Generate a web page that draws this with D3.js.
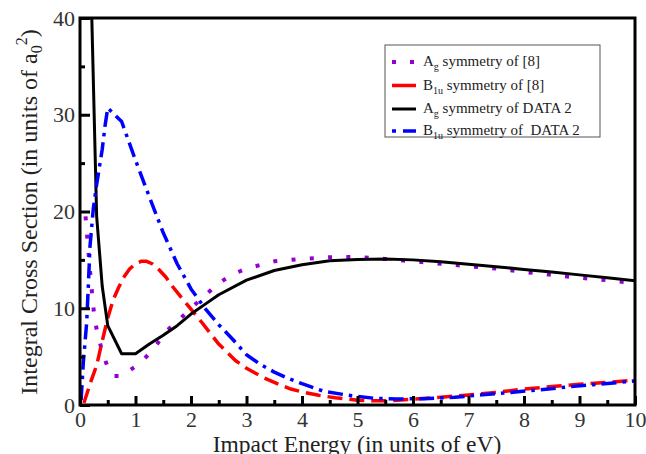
<!DOCTYPE html>
<html>
<head>
<meta charset="utf-8">
<script src="https://cdn.jsdelivr.net/npm/d3@7"></script>
<style>
    body { margin: 0; background: #fff; }
    svg { display: block; }
    svg text { font-family: "Liberation Serif", "Times New Roman", "DejaVu Serif", serif !important; white-space: pre; }
</style>
</head>
<body>
<div id="chart"></div>
<script>
// Ag symmetry of [8] (purple dotted)
const ag8Energy = [0.1, 0.15, 0.2, 0.25, 0.3, 0.4, 0.5, 0.6, 0.75, 0.9, 1.0, 1.15, 1.35, 1.55, 1.8, 2.0, 2.25, 2.5, 2.75, 3.0, 3.5, 4.0, 4.5, 5.0, 5.5, 6.0, 6.5, 7.0, 7.5, 8.0, 8.5, 9.0, 9.5, 10.0];
const ag8Cross = [19.5, 16.0, 12.6, 9.6, 7.8, 5.5, 3.9, 3.0, 3.0, 3.6, 4.0, 4.7, 6.0, 7.6, 8.9, 10.0, 11.3, 12.6, 13.5, 14.1, 14.85, 15.1, 15.27, 15.3, 15.1, 14.85, 14.6, 14.35, 14.1, 13.75, 13.45, 13.15, 12.9, 12.6];

// B1u symmetry of [8] (red dashed)
const b1u8Energy = [0.07, 0.2, 0.3, 0.4, 0.5, 0.6, 0.7, 0.8, 0.9, 1.0, 1.1, 1.2, 1.3, 1.42, 1.55, 1.66, 1.8, 2.0, 2.2, 2.5, 2.8, 3.0, 3.3, 3.6, 3.8, 4.0, 4.3, 4.6, 4.8, 5.0, 5.3, 5.6, 6.0, 6.5, 7.0, 7.5, 8.0, 8.5, 9.0, 9.5, 10.0];
const b1u8Cross = [0.2, 2.5, 4.1, 6.6, 9.0, 10.9, 12.2, 13.3, 14.1, 14.6, 14.85, 14.85, 14.6, 14.0, 13.2, 12.3, 11.3, 9.9, 8.5, 6.3, 4.6, 3.8, 2.85, 2.1, 1.65, 1.35, 1.0, 0.75, 0.62, 0.5, 0.44, 0.45, 0.6, 0.8, 1.03, 1.3, 1.65, 1.9, 2.15, 2.35, 2.55];

// Ag symmetry of DATA 2 (black solid)
const agD2Energy = [0.2, 0.3, 0.4, 0.5, 0.75, 1.0, 1.25, 1.5, 1.75, 2.0, 2.25, 2.5, 3.0, 3.5, 4.0, 4.5, 5.0, 5.5, 6.0, 6.5, 7.0, 7.5, 8.0, 8.5, 9.0, 9.5, 10.0];
const agD2Cross = [43, 19.5, 12.3, 8.2, 5.3, 5.3, 6.3, 7.2, 8.2, 9.4, 10.4, 11.4, 12.9, 13.9, 14.5, 14.9, 15.05, 15.1, 15.0, 14.8, 14.55, 14.3, 14.0, 13.75, 13.45, 13.15, 12.85];

// B1u symmetry of DATA 2 (blue dash-dot)
const b1uD2Energy = [0.02, 0.06, 0.12, 0.15, 0.18, 0.24, 0.3, 0.4, 0.45, 0.5, 0.75, 1.0, 1.25, 1.5, 1.75, 2.0, 2.25, 2.5, 2.75, 3.0, 3.25, 3.5, 3.75, 4.0, 4.4, 4.9, 5.3, 5.7, 6.2, 6.75, 7.25, 7.75, 8.25, 8.75, 9.25, 9.75, 10.0];
const b1uD2Cross = [0.5, 4.4, 8.5, 12.3, 16.4, 20.3, 22.8, 26.4, 28.8, 30.7, 29.3, 25.3, 21.5, 17.8, 14.6, 12.0, 10.0, 8.3, 6.8, 5.2, 4.2, 3.4, 2.75, 2.2, 1.4, 0.95, 0.7, 0.62, 0.65, 0.8, 1.05, 1.3, 1.55, 1.85, 2.1, 2.35, 2.5];

const xTicks = [0, 1, 2, 3, 4, 5, 6, 7, 8, 9, 10];
const xMinorTicks = [0.5, 1.5, 2.5, 3.5, 4.5, 5.5, 6.5, 7.5, 8.5, 9.5];
const yTicks = [0, 10, 20, 30, 40];
const yMinorTicks = [5, 15, 25, 35];

const series = [
    { label: ["A", "g", " symmetry of [8]"], energy: ag8Energy, cross: ag8Cross, color: "#9400d3", width: 4, dash: "4,14.3", key: "4,14" },
    { label: ["B", "1u", " symmetry of [8]"], energy: b1u8Energy, cross: b1u8Cross, color: "#ff0000", width: 3.5, dash: "15,7", key: null },
    { label: ["A", "g", " symmetry of DATA 2"], energy: agD2Energy, cross: agD2Cross, color: "#000000", width: 3, dash: null, key: null },
    { label: ["B", "1u", " symmetry of  DATA 2"], energy: b1uD2Energy, cross: b1uD2Cross, color: "#0000ff", width: 3.5, dash: "15,6,3.5,6", key: "4,7,14,0" }
];

const width = 646, height = 454;
const svg = d3.select("#chart")
    .append("svg")
    .attr("width", width)
    .attr("height", height);

const x = d3.scaleLinear().domain([0, 10]).range([80, 635]);
const y = d3.scaleLinear().domain([0, 40]).range([405, 18]);

// Clip curves to the plot frame
svg.append("clipPath")
    .attr("id", "plot-clip")
    .append("rect")
    .attr("x", x(0))
    .attr("y", y(40))
    .attr("width", x(10) - x(0))
    .attr("height", y(0) - y(40));

const line = d3.line()
    .x(d => x(d[0]))
    .y(d => y(d[1]));

const curves = svg.append("g").attr("clip-path", "url(#plot-clip)");
series.forEach(s => {
    const pts = s.energy.map((e, i) => [e, s.cross[i]]);
    curves.append("path")
        .datum(pts)
        .attr("d", line)
        .attr("fill", "none")
        .attr("stroke", s.color)
        .attr("stroke-width", s.width)
        .attr("stroke-dasharray", s.dash)
        .attr("stroke-linejoin", "round");
});

// Axes with inward ticks
const styleAxis = g => {
    g.attr("font-family", null);
    g.select(".domain").remove();
    g.selectAll(".tick line").attr("stroke", "#000").attr("stroke-width", 3);
    g.selectAll(".tick text")
        .attr("fill", "#333")
        .style("font-size", "22px");
};

svg.append("g")
    .attr("transform", `translate(0,${y(0)})`)
    .call(d3.axisBottom(x).tickValues(xTicks).tickSizeInner(-9).tickSizeOuter(0).tickPadding(6).tickFormat(d3.format("d")))
    .call(styleAxis);

svg.append("g")
    .attr("transform", `translate(0,${y(0)})`)
    .call(d3.axisBottom(x).tickValues(xMinorTicks).tickSizeInner(-5).tickSizeOuter(0).tickFormat(""))
    .call(styleAxis);

svg.append("g")
    .attr("transform", `translate(${x(0)},0)`)
    .call(d3.axisLeft(y).tickValues(yTicks).tickSizeInner(-10).tickSizeOuter(0).tickPadding(5).tickFormat(d3.format("d")))
    .call(styleAxis);

svg.append("g")
    .attr("transform", `translate(${x(0)},0)`)
    .call(d3.axisLeft(y).tickValues(yMinorTicks).tickSizeInner(-5).tickSizeOuter(0).tickFormat(""))
    .call(styleAxis);

// Plot frame
svg.append("rect")
    .attr("x", x(0))
    .attr("y", y(40))
    .attr("width", x(10) - x(0))
    .attr("height", y(0) - y(40))
    .attr("fill", "none")
    .attr("stroke", "#000")
    .attr("stroke-width", 3);

// Axis titles
svg.append("text")
    .attr("x", 357)
    .attr("y", 452)
    .attr("text-anchor", "middle")
    .attr("fill", "#222")
    .style("font-size", "23.5px")
    .text("Impact Energy (in units of eV)");

const yTitle = svg.append("text")
    .attr("transform", "translate(37,212) rotate(-90)")
    .attr("text-anchor", "middle")
    .attr("fill", "#222")
    .style("font-size", "24px");
yTitle.append("tspan").text("Integral Cross Section (in units of a");
yTitle.append("tspan").attr("dy", 5).style("font-size", "16px").text("0");
yTitle.append("tspan").attr("dy", -15).style("font-size", "16px").text("2");
yTitle.append("tspan").attr("dy", 10).text(")");

// Legend
const legend = svg.append("g");
legend.append("rect")
    .attr("x", 385)
    .attr("y", 45)
    .attr("width", 215)
    .attr("height", 92)
    .attr("fill", "#fff")
    .attr("stroke", "#555")
    .attr("stroke-width", 1);

const legendY = [62, 85.5, 109, 131];
series.forEach((s, i) => {
    const ly = legendY[i];
    legend.append("line")
        .attr("x1", 392)
        .attr("x2", 416)
        .attr("y1", ly)
        .attr("y2", ly)
        .attr("stroke", s.color)
        .attr("stroke-width", s.width)
        .attr("stroke-dasharray", s.key);

    const t = legend.append("text")
        .attr("x", 423)
        .attr("y", ly + 4)
        .attr("fill", "#222")
        .style("font-size", "15px");
    t.append("tspan").text(s.label[0]);
    t.append("tspan").attr("dy", 4).style("font-size", "10px").text(s.label[1]);
    t.append("tspan").attr("dy", -4).text(s.label[2]);
});
</script>
</body>
</html>
